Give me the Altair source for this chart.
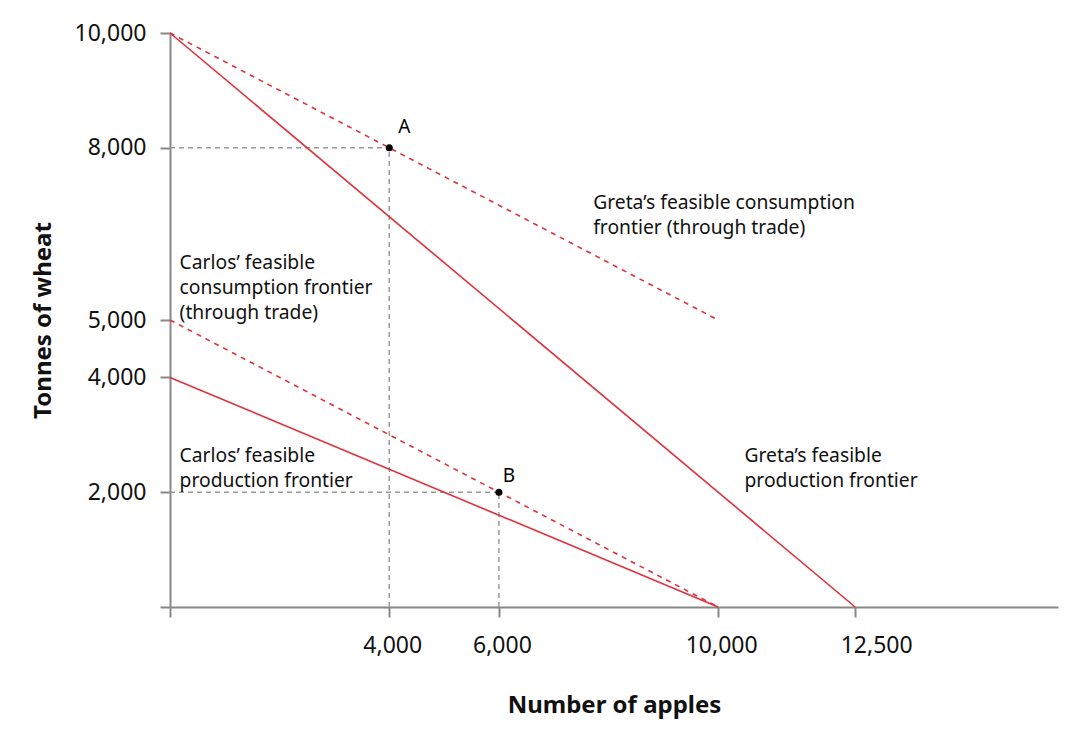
import altair as alt
import pandas as pd

# frontier endpoints (apples, wheat)
series = ["Greta production", "Carlos production", "Greta consumption", "Carlos consumption"]
x_start = [0, 0, 0, 0]
y_start = [10000, 4000, 10000, 5000]
x_end = [12500, 10000, 10000, 10000]
y_end = [0, 0, 5000, 0]
dashed = [False, False, True, True]

pt_names = ["A", "B"]
pt_x = [4000, 6000]
pt_y = [8000, 2000]

x_ticks = [0, 4000, 6000, 10000, 12500]
y_ticks = [0, 2000, 4000, 5000, 8000, 10000]

ann_text = [
    ["Greta’s feasible consumption", "frontier (through trade)"],
    ["Carlos’ feasible", "consumption frontier", "(through trade)"],
    ["Carlos’ feasible", "production frontier"],
    ["Greta’s feasible", "production frontier"],
]
ann_x = [7720, 175, 175, 10480]
ann_y = [7195, 6145, 2795, 2795]

FONT = "Noto Sans"
RED = "#e0323c"

rows = []
for s, xs_, ys_, xe, ye, d in zip(series, x_start, y_start, x_end, y_end, dashed):
    rows.append({"series": s, "x": xs_, "y": ys_, "o": 0, "dashed": d})
    rows.append({"series": s, "x": xe, "y": ye, "o": 1, "dashed": d})
lines = pd.DataFrame(rows)

guide_rows = []
for n, px, py in zip(pt_names, pt_x, pt_y):
    guide_rows.append({"g": n + "h", "x": 0, "y": py, "o": 0})
    guide_rows.append({"g": n + "h", "x": px, "y": py, "o": 1})
    guide_rows.append({"g": n + "v", "x": px, "y": 0, "o": 0})
    guide_rows.append({"g": n + "v", "x": px, "y": py, "o": 1})
guides = pd.DataFrame(guide_rows)

pts = pd.DataFrame({"name": pt_names, "x": pt_x, "y": pt_y})
ann = pd.DataFrame({"t": ann_text, "x": ann_x, "y": ann_y})

xs = alt.Scale(domain=[0, 16200], nice=False, zero=False)
ys = alt.Scale(domain=[0, 10000], nice=False)

common = dict(grid=False, labelExpr="datum.value == 0 ? '' : format(datum.value, ',')",
              labelFont=FONT, titleFont=FONT, labelColor="#111111", titleColor="#111111",
              domainColor="#888888", domainWidth=2, tickColor="#888888", tickWidth=2,
              tickSize=10, labelFontSize=23, titleFontSize=24, titleFontWeight="bold")
xax = alt.Axis(values=x_ticks, title="Number of apples", labelPadding=17, titlePadding=36,
               labelOffset={"condition": {"test": "datum.value == 12500", "value": 21}, "value": 3},
               **common)
yax = alt.Axis(values=y_ticks, title="Tonnes of wheat", labelPadding=14, titlePadding=19, **common)

guide_layer = alt.Chart(guides).mark_line(color="#999999", strokeDash=[5, 4], strokeWidth=1.5).encode(
    x=alt.X("x:Q", scale=xs, axis=xax),
    y=alt.Y("y:Q", scale=ys, axis=yax),
    detail="g:N", order="o:Q")

solid = alt.Chart(lines[~lines["dashed"]]).mark_line(color=RED, strokeWidth=1.6).encode(
    x=alt.X("x:Q", scale=xs), y=alt.Y("y:Q", scale=ys), detail="series:N", order="o:Q")
dash = alt.Chart(lines[lines["dashed"]]).mark_line(color=RED, strokeWidth=1.6, strokeDash=[5, 5]).encode(
    x=alt.X("x:Q", scale=xs), y=alt.Y("y:Q", scale=ys), detail="series:N", order="o:Q")

dots = alt.Chart(pts).mark_circle(color="black", size=50, opacity=1).encode(
    x=alt.X("x:Q", scale=xs), y=alt.Y("y:Q", scale=ys))
lab_a = alt.Chart(pts).transform_filter("datum.name == 'A'").mark_text(
    font=FONT, fontSize=19, dx=15, dy=-21, color="black").encode(
    x=alt.X("x:Q", scale=xs), y=alt.Y("y:Q", scale=ys), text="name:N")
lab_b = alt.Chart(pts).transform_filter("datum.name == 'B'").mark_text(
    font=FONT, fontSize=19, dx=10, dy=-16, color="black").encode(
    x=alt.X("x:Q", scale=xs), y=alt.Y("y:Q", scale=ys), text="name:N")

ann_layer = alt.Chart(ann).mark_text(font=FONT, fontSize=19.3, align="left", baseline="top",
                                     lineHeight=25, color="#111111").encode(
    x=alt.X("x:Q", scale=xs), y=alt.Y("y:Q", scale=ys), text="t")

chart = alt.layer(guide_layer, solid, dash, dots, lab_a, lab_b, ann_layer).properties(
    width=888, height=574,
    background="white",
    padding={"left": 23, "top": 14, "right": 10, "bottom": 10},
).configure_view(stroke=None)

chart.save("out.html", embed_options={"renderer": "svg", "actions": False})
